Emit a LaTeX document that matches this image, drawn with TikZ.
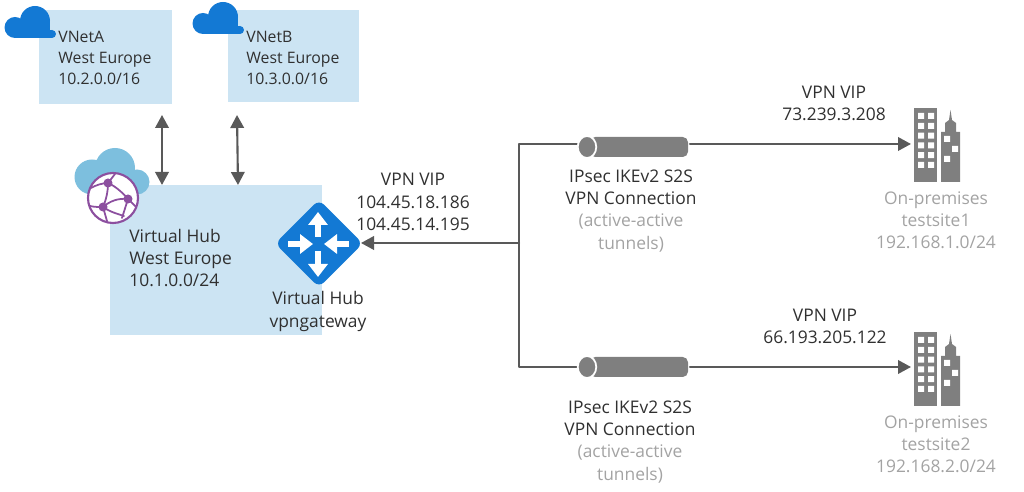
\documentclass[tikz,border=0pt]{standalone}
\usepackage{fontspec}
\setmainfont{Open Sans}
\usetikzlibrary{arrows.meta,shapes.geometric}
\definecolor{boxblue}{HTML}{CCE4F3}
\definecolor{cloudblue}{HTML}{1379D4}
\definecolor{hubcloud}{HTML}{7DBFDE}
\definecolor{globepurple}{HTML}{8C4F9F}
\definecolor{linegrey}{HTML}{595959}
\definecolor{shapegrey}{HTML}{7F7F7F}
\definecolor{textdark}{HTML}{303030}
\definecolor{textgrey}{HTML}{A3A3A3}
\tikzset{
  areabox/.style={fill=boxblue, inner sep=0pt},
  lbl/.style={text=textdark, inner sep=0pt, align=center, font=\fontsize{9.9}{12.6}\selectfont},
  lblleft/.style={lbl, align=left},
  lblsmall/.style={lblleft, font=\fontsize{9}{12}\selectfont},
  link/.style={draw=linegrey, line width=1.2pt},
  tunnelbody/.style={fill=shapegrey, rounded corners=3pt, minimum width=1.96cm, minimum height=0.4cm, inner sep=0pt},
  tunnelcap/.style={ellipse, fill=shapegrey, draw=white, line width=1pt, minimum width=0.37cm, minimum height=0.44cm, inner sep=0pt},
  cloudicon/.pic={
    \fill (-12,0.5) circle [radius=10.5] (8,-6) circle [radius=15] (25,7) circle [radius=4];
    \fill (-12,3) rectangle (25,11);
    \fill (8,-6) rectangle (23,8);
  },
  buildings/.pic={
    \fill[shapegrey] (0,0) rectangle (23,74);
    \fill[white] \foreach \row in {0,1,2,3,4,5} {
      (4,{5+\row*9.8}) rectangle ++(6,6) (14,{5+\row*9.8}) rectangle ++(6,6)};
    \fill[shapegrey] (27,74) -- (27,24) -- (31,24) -- (31,15) -- (35,12) -- (36.5,2) -- (38,12) -- (42,15) -- (42,24) -- (46,24) -- (46,74) -- cycle;
    \fill[white] (30,28) rectangle ++(6,6) (38,38) rectangle ++(6,6) (30,48) rectangle ++(6,6);
  },
}
\begin{document}
\begin{tikzpicture}[line cap=round,line join=round,>={Triangle[length=0.26cm,width=0.27cm]},x=0.02cm,y=-0.02cm]
  \useasboundingbox (0,0) rectangle (1024,492);

  % blue areas
  \node (vnetA) [areabox, minimum width=2.66cm, minimum height=1.88cm] at (105.5,57) {};
  \node (vnetB) [areabox, minimum width=2.62cm, minimum height=1.84cm] at (293.5,56) {};
  \node (hub) [areabox, minimum width=4.24cm, minimum height=3cm] at (216,260) {};

  % clouds
  \pic[cloudblue] at (27,27) {cloudicon};
  \pic[cloudblue] at (215,23) {cloudicon};
  \fill[hubcloud] (92,177) circle [radius=17.5] (115,168) circle [radius=20] (137,182) circle [radius=12.5];
  \fill[hubcloud] (92,172) rectangle (137,194);

  % globe
  \draw[globepurple, line width=1.2pt, fill=white] (113,198) circle [radius=25];
  \begin{scope}[globepurple, line width=1pt]
    \draw (108,183) .. controls (103,183) and (96,185) .. (91,188);
    \draw (108,183) -- (115,174);
    \draw (108,183) .. controls (108,192) and (106,200) .. (103,207);
    \draw (108,183) .. controls (115,186) and (122,192) .. (128,199);
    \draw (103,207) .. controls (110,201) and (118,198) .. (128,199);
    \draw (103,207) .. controls (98,207) and (94,207) .. (90,206);
    \draw (103,207) -- (107,221);
    \draw (103,207) .. controls (110,212) and (118,214) .. (124,216);
    \draw (128,199) -- (136,207);
    \draw (128,199) -- (122,218);
    \fill (108,183) circle [radius=4.5] (128,199) circle [radius=4.5] (103,207) circle [radius=4.5];
  \end{scope}

  % gateway
  \node (gateway) [diamond, fill=cloudblue, rounded corners=4pt, minimum width=1.76cm, minimum height=1.76cm, inner sep=0pt] at (319,243.5) {};
  \begin{scope}[white, line width=3pt, >={Triangle[length=0.26cm,width=0.38cm]}, line cap=butt]
    \draw[->] (318,237) -- (318,212);
    \draw[->] (318,251) -- (318,277);
    \draw[->] (288,244) -- (313,244);
    \draw[->] (349,244) -- (324,244);
  \end{scope}

  % labels on the left
  \node (vnetAtext) [lblsmall, anchor=north west] at (58,31) {VNetA\\West Europe\\10.2.0.0/16};
  \node (vnetBtext) [lblsmall, anchor=north west] at (246,31) {VNetB\\West Europe\\10.3.0.0/16};
  \node (hubtext) [lblleft, anchor=north west] at (129,229) {Virtual Hub\\West Europe\\10.1.0.0/24};
  \node (gatewaytext) [lbl] at (318,311.5) {Virtual Hub\\vpngateway};
  \node (hubvip) [lbl] at (413,202) {VPN VIP\\104.45.18.186\\104.45.14.195};

  % peering arrows
  \coordinate (peerAtop) at (162,115);
  \coordinate (peerAbottom) at (162,185);
  \coordinate (peerBtop) at (237,115);
  \coordinate (peerBbottom) at (238,185);
  \draw[link, <->] (peerAtop) -- (peerAbottom);
  \draw[link, <->] (peerBtop) -- (peerBbottom);

  % sites
  \pic at (914,108) {buildings};
  \pic at (914,332) {buildings};
  \coordinate (siteA) at (911,144);
  \coordinate (siteB) at (911,367);
  \coordinate (junction) at (519,243);
  \coordinate (cornerA) at (519,144);
  \coordinate (cornerB) at (519,367);
  \coordinate (gatewayend) at (361,243);

  % connections
  \draw[link, ->] (junction) -- (gatewayend);
  \draw[link] (577,144) -- (cornerA) -- (cornerB) -- (577,367);
  \draw[link, ->] (690,144) -- (siteA);
  \draw[link, ->] (690,367) -- (siteB);

  % tunnels
  \node (tunnelA) [tunnelbody] at (639,147) {};
  \node (capA) [tunnelcap] at (587,147) {};
  \node (tunnelB) [tunnelbody] at (639,367) {};
  \node (capB) [tunnelcap] at (587,367) {};

  % labels on the right
  \node (tunnelAtext) [lbl] at (631,211) {IPsec IKEv2 S2S\\VPN Connection\\{\color{textgrey}(active-active}\\{\color{textgrey}tunnels)}};
  \node (tunnelBtext) [lbl] at (630,442) {IPsec IKEv2 S2S\\VPN Connection\\{\color{textgrey}(active-active}\\{\color{textgrey}tunnels)}};
  \node (vipA) [lbl] at (834,103) {VPN VIP\\73.239.3.208};
  \node (vipB) [lbl] at (825,326) {VPN VIP\\66.193.205.122};
  \node (siteAtext) [lbl, text=textgrey] at (936,220) {On-premises\\testsite1\\192.168.1.0/24};
  \node (siteBtext) [lbl, text=textgrey] at (936,444) {On-premises\\testsite2\\192.168.2.0/24};
\end{tikzpicture}
\end{document}
